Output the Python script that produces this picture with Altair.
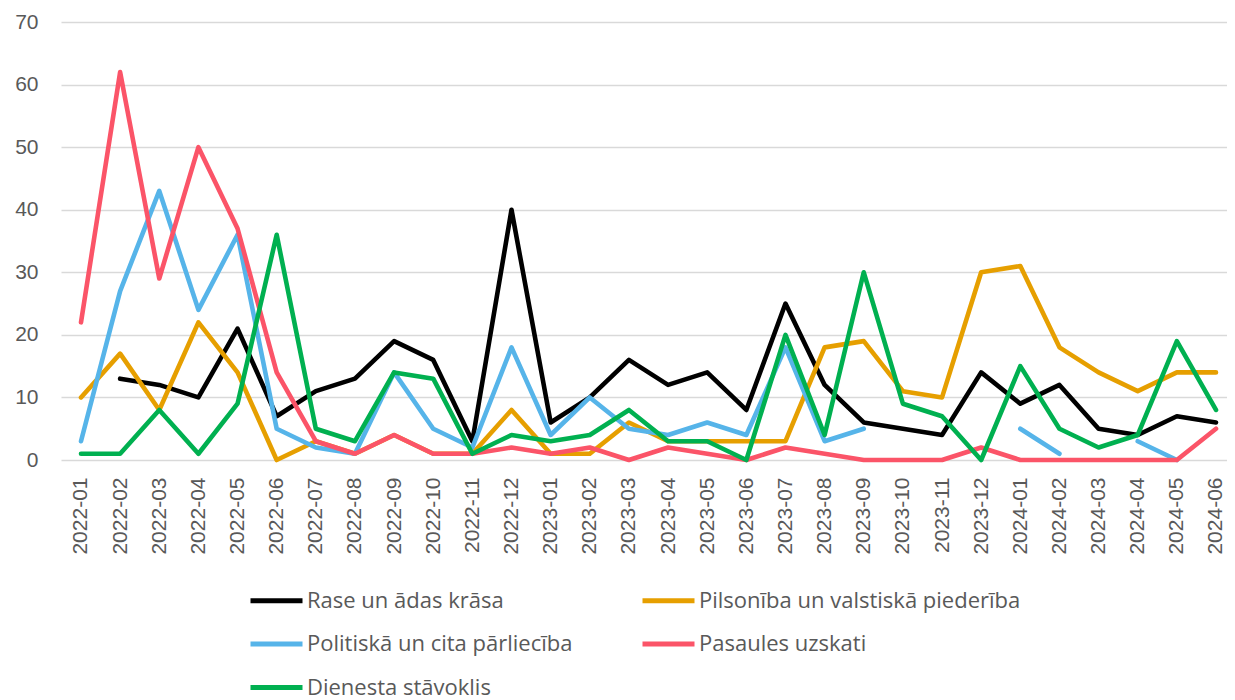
import altair as alt
import pandas as pd

months = ["2022-01","2022-02","2022-03","2022-04","2022-05","2022-06","2022-07","2022-08","2022-09","2022-10","2022-11","2022-12",
          "2023-01","2023-02","2023-03","2023-04","2023-05","2023-06","2023-07","2023-08","2023-09","2023-10","2023-11","2023-12",
          "2024-01","2024-02","2024-03","2024-04","2024-05","2024-06"]

series_names = ["Rase un ādas krāsa", "Pilsonība un valstiskā piederība",
                "Politiskā un cita pārliecība", "Pasaules uzskati", "Dienesta stāvoklis"]

rase = [None,13,12,10,21,7,11,13,19,16,3,40, 6,10,16,12,14,8,25,12,6,5,4,14, 9,12,5,4,7,6]
pilsoniba = [10,17,8,22,14,0,3,1,4,1,1,8, 1,1,6,3,3,3,3,18,19,11,10,30, 31,18,14,11,14,14]
politiska = [3,27,43,24,36,5,2,1,14,5,2,18, 4,10,5,4,6,4,18,3,5,None,None,None, 5,1,None,3,0,None]
pasaules = [22,62,29,50,37,14,3,1,4,1,1,2, 1,2,0,2,1,0,2,1,0,0,0,2, 0,0,0,0,0,5]
dienesta = [1,1,8,1,9,36,5,3,14,13,1,4, 3,4,8,3,3,0,20,4,30,9,7,0, 15,5,2,4,19,8]

colors = ["#000000", "#E69F00", "#56B4E9", "#FB5468", "#00B050"]

all_series = [rase, pilsoniba, politiska, pasaules, dienesta]
rows = []
for name, vals in zip(series_names, all_series):
    for m, v in zip(months, vals):
        rows.append({"month": m, "series": name, "value": v})
df = pd.DataFrame(rows)

color_scale = alt.Scale(domain=series_names, range=colors)

layers = []
for i, name in enumerate(series_names):
    layer = alt.Chart(df).transform_filter(
        alt.datum.series == name
    ).mark_line(
        strokeWidth=4.6, strokeCap="round", strokeJoin="round",
        invalid="break-paths-show-domains"
    ).encode(
        x=alt.X("month:O", sort=months,
                scale=alt.Scale(type="point", padding=0.396, align=0.645),
                axis=alt.Axis(title=None, labelAngle=-90, labelAlign="right", labelBaseline="middle",
                              labelPadding=17, ticks=False, domain=False, grid=False,
                              labelFont="Liberation Sans", labelFontSize=21, labelColor="#595959")),
        y=alt.Y("value:Q", scale=alt.Scale(domain=[0, 70], nice=False),
                axis=alt.Axis(title=None, values=[0,10,20,30,40,50,60,70], ticks=False, domain=False,
                              labelPadding=23, gridColor="#D9D9D9", gridWidth=1.5,
                              labelFont="Liberation Sans", labelFontSize=21, labelColor="#595959")),
        color=alt.Color("series:N", scale=color_scale, sort=series_names,
                        legend=alt.Legend(title=None, orient="none", legendX=187, legendY=550,
                                          direction="horizontal",
                                          columns=2, symbolType="stroke", symbolSize=2704,
                                          symbolStrokeWidth=5, columnPadding=59, rowPadding=3.5,
                                          labelFont="Open Sans", labelFontSize=22,
                                          labelColor="#595959", labelOffset=2, padding=0,
                                          labelLimit=600))
    )
    layers.append(layer)

chart = alt.layer(*layers).properties(
    width=1166, height=438,
    autosize=alt.AutoSizeParams(type="none"),
    padding={"left": 53, "top": 14, "right": 0, "bottom": 240}
).configure_view(stroke=None)

chart.save("out.html", embed_options={"renderer": "svg", "actions": False})
